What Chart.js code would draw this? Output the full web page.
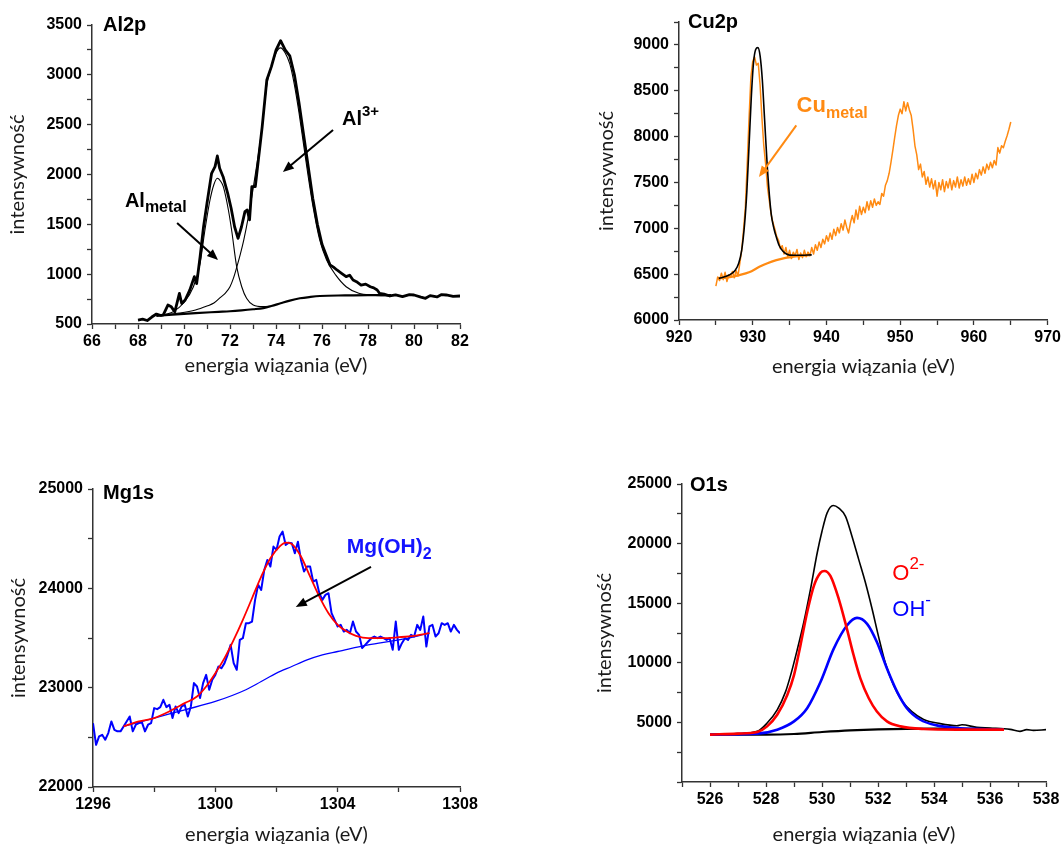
<!DOCTYPE html>
<html>
<head>
<meta charset="utf-8">
<script src="https://cdn.jsdelivr.net/npm/chart.js@4.4.1/dist/chart.umd.min.js"></script>
<style>
  html, body { margin: 0; padding: 0; background: #fff; overflow: hidden; width: 1064px; height: 845px; }
  canvas { position: absolute; }
</style>
</head>
<body>
<script>
// ---- Al2p ----
const alE = [68.0,68.2,68.4,68.6,68.8,69.0,69.1,69.3,69.45,69.6,69.8,69.9,70.05,70.25,70.45,70.55,70.7,70.85,71.0,71.2,71.35,71.45,71.55,71.7,71.9,72.05,72.2,72.35,72.5,72.65,72.75,72.85,72.95,73.1,73.25,73.4,73.6,73.8,74.0,74.2,74.4,74.6,74.8,75.0,75.2,75.4,75.6,75.8,76.0,76.15,76.35,76.5,76.65,76.85,77.05,77.2,77.35,77.5,77.7,77.9,78.1,78.25,78.4,78.5,78.7,78.95,79.2,79.5,79.8,80.0,80.3,80.5,80.7,81.0,81.2,81.4,81.7,82.0];
const alI = [540,548,535,570,600,585,592,690,672,622,808,705,741,840,975,905,1175,1476,1711,2012,2079,2186,2062,1978,1811,1661,1476,1360,1476,1627,1644,1544,1878,1878,2179,2480,2948,3082,3249,3343,3250,3190,3000,2720,2400,2080,1760,1500,1300,1209,1092,1070,1042,1009,975,990,942,925,891,900,874,862,841,808,800,781,792,775,795,791,770,758,785,772,795,791,778,781];
const alMetalE = [68.8,69.26,69.54,69.97,70.41,70.7,70.91,71.13,71.3,71.45,71.6,71.71,71.93,72.07,72.29,72.51,72.72,73.01,73.45,73.8];
const alMetalI = [580,600,624,708,874,1109,1443,1744,1900,1962,1930,1878,1644,1443,1075,874,758,691,674,680];
const al3E = [69.0,69.8,70.5,71.0,71.3,71.6,71.8,72.0,72.15,72.3,72.45,72.6,72.8,73.0,73.2,73.4,73.6,73.8,74.0,74.2,74.4,74.6,74.8,75.0,75.2,75.4,75.6,75.9,76.2,76.6,77.05,77.6,78.2,79.0];
const al3I = [590,610,640,680,710,770,810,874,960,1075,1200,1343,1577,1850,2150,2480,2900,3080,3220,3270,3220,3110,2900,2620,2300,1980,1690,1343,1142,990,874,808,790,782];
const alBgE = [68.8,69.5,70.5,71.5,72.0,72.5,73.0,73.45,73.8,74.2,74.6,75.04,75.5,75.91,77.0,78.0,79.0];
const alBgI = [582,595,610,622,628,637,648,660,680,708,735,758,772,781,787,790,790];

// ---- Cu2p ----
const cuE = [925,925.25,925.5,925.75,926,926.25,926.5,926.75,927,927.25,927.5,927.75,928,928.25,928.5,928.75,929,929.25,929.5,929.75,930,930.25,930.5,930.75,931,931.25,931.5,931.75,932,932.25,932.5,932.75,933,933.25,933.5,933.75,934,934.25,934.5,934.75,935,935.25,935.5,935.75,936,936.25,936.5,936.75,937,937.25,937.5,937.75,938,938.25,938.5,938.75,939,939.25,939.5,939.75,940,940.25,940.5,940.75,941,941.25,941.5,941.75,942,942.25,942.5,942.75,943,943.25,943.5,943.75,944,944.25,944.5,944.75,945,945.25,945.5,945.75,946,946.25,946.5,946.75,947,947.25,947.5,947.75,948,948.25,948.5,948.75,949,949.25,949.5,949.75,950,950.25,950.5,950.75,951,951.25,951.5,951.75,952,952.25,952.5,952.75,953,953.25,953.5,953.75,954,954.25,954.5,954.75,955,955.25,955.5,955.75,956,956.25,956.5,956.75,957,957.25,957.5,957.75,958,958.25,958.5,958.75,959,959.25,959.5,959.75,960,960.25,960.5,960.75,961,961.25,961.5,961.75,962,962.25,962.5,962.75,963,963.25,963.5,963.75,964,964.25,964.5,964.75,965];
const cuI = [6370,6470,6430,6510, 6440,6520,6420,6490, 6470,6530,6460,6540, 6480,6620,6760,6980,
  7230,7700,8200,8650, 8820,8870,8780,8800, 8560,8200,7900,7700, 7450,7300,7150,7060,
  6990,6910,6870,6780, 6810,6720,6790,6690, 6760,6670,6740,6700, 6770,6660,6730,6680,
  6760,6690,6740,6700, 6790,6720,6820,6760, 6850,6790,6880,6830, 6920,6860,6950,6880,
  6990,6920,7010,6950, 7050,6980,7090,7010, 6950,7060,7140,7060, 7200,7100,7240,7150,
  7230,7170,7290,7200, 7300,7230,7320,7250, 7290,7260,7380,7350, 7470,7520,7600,7720,
  7850,7990,8120,8230, 8300,8250,8380,8280, 8370,8290,8230,8080, 7900,7800,7640,7700,
  7560,7620,7480,7560, 7450,7540,7430,7520, 7350,7500,7420,7530, 7400,7510,7440,7540,
  7420,7520,7450,7560, 7440,7530,7460,7560, 7470,7540,7480,7590, 7500,7600,7540,7640,
  7580,7670,7600,7700, 7640,7720,7660,7740, 7690,7880,7820,7900, 7880,7950,8010,8080, 8160];
const cuFitE = [925.4,926.8,927.6,928.1,928.5,928.9,929.2,929.5,929.8,930.1,930.4,930.7,931.0,931.3,931.6,932.0,932.5,932.9,933.2,933.6,934.1,935.0,936.5,938.0];
const cuFitI = [6454,6490,6540,6620,6760,7050,7400,7900,8420,8800,8950,8970,8880,8620,8200,7640,7160,6990,6905,6810,6750,6708,6706,6710];
const cuBgE = [925.3,926.5,928.2,929.5,930.9,932.0,933.2,934.3,935.45,936.5,937.7];
const cuBgI = [6455,6462,6490,6520,6580,6620,6653,6675,6689,6700,6708];

// ---- Mg1s ----
const mgE = [1296,1296.1,1296.2,1296.3,1296.4,1296.5,1296.6,1296.7,1296.8,1296.9,
  1297,1297.1,1297.2,1297.3,1297.4,1297.5,1297.6,1297.7,1297.8,1297.9,
  1298,1298.1,1298.2,1298.3,1298.4,1298.5,1298.6,1298.7,1298.8,1298.9,
  1299,1299.1,1299.2,1299.3,1299.4,1299.5,1299.6,1299.7,1299.8,1299.9,
  1300,1300.1,1300.2,1300.3,1300.4,1300.5,1300.6,1300.7,1300.8,1300.9,
  1301,1301.1,1301.2,1301.3,1301.4,1301.5,1301.6,1301.7,1301.8,1301.9,
  1302,1302.1,1302.2,1302.3,1302.4,1302.5,1302.6,1302.7,1302.8,1302.9,
  1303,1303.1,1303.2,1303.3,1303.4,1303.5,1303.6,1303.7,1303.8,1303.9,
  1304,1304.1,1304.2,1304.3,1304.4,1304.5,1304.6,1304.7,1304.8,1304.9,
  1305,1305.1,1305.2,1305.3,1305.4,1305.5,1305.6,1305.7,1305.8,1305.9,
  1306,1306.1,1306.2,1306.3,1306.4,1306.5,1306.6,1306.7,1306.8,1306.9,
  1307,1307.1,1307.2,1307.3,1307.4,1307.5,1307.6,1307.7,1307.8,1307.9,1308];
const mgI = [22643,22425,22509,22526,22476,22543,22660,22576,22560,22560,
  22610,22660,22710,22560,22627,22643,22650,22560,22627,22643,
  22794,22784,22804,22878,22804,22828,22694,22811,22744,22811,
  22828,22710,22811,23046,23012,22895,23046,23129,22979,23079,
  23129,23213,23196,23247,23331,23431,23247,23180,23481,23498,
  23649,23649,23666,23884,24035,23984,24185,24286,24219,24420,
  24387,24521,24571,24437,24460,24454,24353,24470,24286,24169,
  24219,24219,24068,24085,23951,23884,23934,23951,23750,23683,
  23616,23632,23565,23582,23548,23666,23565,23532,23398,23431,
  23465,23498,23515,23498,23515,23498,23481,23498,23381,23666,
  23381,23448,23498,23481,23532,23515,23632,23582,23716,23414,
  23616,23632,23515,23548,23649,23632,23649,23565,23632,23582,23548];
const mgFitE = [1297.0,1297.5,1298.0,1298.5,1299.0,1299.4,1299.7,1300.0,1300.3,1300.6,1300.9,1301.2,1301.5,1301.8,1302.1,1302.3,1302.5,1302.8,1303.1,1303.4,1303.7,1304.0,1304.3,1304.6,1305.0,1305.5,1306.0,1306.5,1307.0];
const mgFitI = [22610,22660,22694,22761,22844,22911,23012,23146,23297,23481,23683,23900,24118,24303,24420,24460,24447,24320,24118,23917,23750,23632,23565,23522,23498,23498,23508,23522,23548];
const mgBgE = [1297,1298,1299,1300,1301,1301.5,1302,1302.5,1303,1303.5,1304,1305,1306,1307];
const mgBgI = [22610,22694,22777,22861,22979,23062,23146,23213,23280,23331,23364,23431,23481,23548];

// ---- O1s ----
const oEnvE = [526,526.97,527.69,528.04,528.4,528.7,528.88,529.11,529.35,529.59,529.83,530.0,530.18,530.4,530.6,530.84,531.07,531.31,531.55,531.79,532.02,532.26,532.56,532.86,533.21,533.63,534.22,534.82,535.0,535.53,536.0,536.72,537.07,537.31,537.55,538];
const oEnvI = [3974,4057,4250,4945,6054,7580,8967,11047,13405,16179,19230,21033,22559,23197,22975,22282,20617,18675,16734,14515,12200,10000,8100,6800,5900,5250,4900,4722,4806,4584,4528,4417,4251,4390,4334,4390];
const oO2E = [526,527,527.69,528.04,528.4,528.76,529.0,529.23,529.47,529.71,529.95,530.09,530.3,530.6,530.89,531.13,531.37,531.67,531.96,532.32,532.8,533.63,534.82,536.5];
const oO2I = [3974,4057,4196,4667,5638,7303,8967,11463,14237,16456,17566,17705,17289,15347,12850,10631,8690,7025,5916,5083,4667,4445,4390,4390];
const oOHE = [526,527.69,528.4,529.0,529.47,529.95,530.42,530.89,531.25,531.61,531.96,532.32,532.68,533.03,533.51,534.1,534.82,535.65,536.5];
const oOHI = [3974,4057,4390,5083,6193,8412,11186,13128,13766,13267,11740,9521,7580,6193,5222,4750,4528,4445,4390];
const oBgE = [526,528,529,530,531,532,534,536.5];
const oBgI = [3974,3974,4029,4196,4334,4417,4473,4445];

const ORANGE = '#ff8a12', RED = '#ff0000', BLUE = '#0000ff';
const TICK_FONT = { family: '"Liberation Sans", Arial, sans-serif', size: 16, weight: 'bold' };
const TITLE_FONT = { family: 'Lato, "Open Sans", sans-serif', size: 20 };
const HALF_LH = 20 * 1.2 / 2;
const B = (s) => 'bold ' + s + 'px "Liberation Sans", Arial, sans-serif';
const R = (s) => s + 'px "Liberation Sans", Arial, sans-serif';

function line(xs, ys, color, width, smooth) {
  return {
    data: xs.map((v, i) => ({ x: v, y: ys[i] })),
    borderColor: color, borderWidth: width, pointRadius: 0, fill: false,
    tension: smooth ? 0.4 : 0,
    cubicInterpolationMode: smooth ? 'monotone' : 'default',
    borderJoinStyle: 'round'
  };
}

// panel title, coloured labels and arrows, placed through the scales
function marks(cfg) {
  return {
    id: 'marks',
    afterDatasetsDraw(chart) {
      const { ctx, chartArea: a, scales: { x, y } } = chart;
      ctx.save();
      ctx.textAlign = 'left';
      ctx.textBaseline = 'alphabetic';
      ctx.fillStyle = '#000';
      ctx.font = B(20);
      ctx.fillText(cfg.title, a.left + cfg.titleAt[0], a.top + cfg.titleAt[1]);
      (cfg.labels || []).forEach(l => {
        let px = x.getPixelForValue(l.at[0]);
        const py = y.getPixelForValue(l.at[1]);
        ctx.fillStyle = l.color;
        l.parts.forEach(([t, f, dy]) => {
          ctx.font = f;
          ctx.fillText(t, px, py + dy);
          px += ctx.measureText(t).width;
        });
      });
      (cfg.arrows || []).forEach(ar => {
        const x0 = x.getPixelForValue(ar.from[0]), y0 = y.getPixelForValue(ar.from[1]);
        const x1 = x.getPixelForValue(ar.to[0]), y1 = y.getPixelForValue(ar.to[1]);
        const ang = Math.atan2(y1 - y0, x1 - x0), c = Math.cos(ang), s = Math.sin(ang);
        const head = 11, half = 4.5;
        ctx.strokeStyle = ar.color; ctx.fillStyle = ar.color; ctx.lineWidth = 2;
        ctx.beginPath();
        ctx.moveTo(x0, y0);
        ctx.lineTo(x1 - c * head * 0.8, y1 - s * head * 0.8);
        ctx.stroke();
        ctx.beginPath();
        ctx.moveTo(x1, y1);
        ctx.lineTo(x1 - head * c + half * s, y1 - head * s - half * c);
        ctx.lineTo(x1 - head * c - half * s, y1 - head * s + half * c);
        ctx.closePath();
        ctx.fill();
      });
      ctx.restore();
    }
  };
}

function axis(s, b, isX) {
  return {
    type: 'linear', min: s.min, max: s.max,
    afterFit: isX ? (sc => { sc.height = b.top + b.h - b.B; }) : (sc => { sc.width = b.L - b.left; }),
    ticks: {
      stepSize: s.step, autoSkip: false, maxRotation: 0, color: '#000', font: TICK_FONT,
      padding: isX ? 3 : 5,
      callback: v => (s.major(v) ? String(v) : '')
    },
    grid: { drawOnChartArea: false, tickLength: 5, tickColor: '#333', tickWidth: 1.3 },
    border: { color: '#333', width: 1.5 },
    title: {
      display: true, color: '#1a1a1a', font: TITLE_FONT,
      text: isX ? 'energia wiązania (eV)' : 'intensywność',
      padding: isX ? { top: 0, bottom: b.top + b.h - b.xt - HALF_LH }
                   : { top: b.yt - b.left - HALF_LH, bottom: 0 }
    }
  };
}

function panel(b, xs, ys, datasets, cfg) {
  const cv = document.createElement('canvas');
  cv.width = b.w; cv.height = b.h;
  cv.style.left = b.left + 'px'; cv.style.top = b.top + 'px';
  document.body.appendChild(cv);
  return new Chart(cv, {
    type: 'line',
    data: { datasets },
    options: {
      responsive: false, animation: false,
      layout: { padding: { left: 0, top: b.T - b.top, right: b.left + b.w - b.R, bottom: 0 } },
      plugins: { legend: { display: false }, tooltip: { enabled: false } },
      scales: { x: axis(xs, b, true), y: axis(ys, b, false) }
    },
    plugins: [marks(cfg)]
  });
}

// Al2p
panel({ left: 0, top: 0, w: 532, h: 385, L: 92, R: 460, T: 25, B: 324, xt: 366, yt: 18 },
  { min: 66, max: 82, step: 1, major: v => v % 2 === 0 },
  { min: 500, max: 3500, step: 250, major: v => v % 500 === 0 },
  [line(alE, alI, '#000', 2.8, false),
   line(alMetalE, alMetalI, '#000', 1.1, true),
   line(al3E, al3I, '#000', 1.1, true),
   line(alBgE, alBgI, '#000', 2.2, true)],
  { title: 'Al2p', titleAt: [11, 6],
    labels: [
      { at: [67.43, 1674], color: '#000', parts: [['Al', B(20), 0], ['metal', B(16), 5]] },
      { at: [76.87, 2497], color: '#000', parts: [['Al', B(20), 0], ['3+', B(15), -9]] }],
    arrows: [
      { from: [69.7, 1513], to: [71.48, 1142], color: '#000' },
      { from: [76.48, 2447], to: [74.3, 2025], color: '#000' }] });

// Cu2p
panel({ left: 590, top: 0, w: 474, h: 385, L: 679, R: 1048, T: 22, B: 320, xt: 367, yt: 607 },
  { min: 920, max: 970, step: 5, major: v => v % 10 === 0 },
  { min: 6000, max: 9250, step: 250, major: v => v % 500 === 0 },
  [line(cuFitE, cuFitI, '#000', 1.6, true),
   line(cuE, cuI, ORANGE, 1.5, false),
   line(cuBgE, cuBgI, ORANGE, 2.2, true)],
  { title: 'Cu2p', titleAt: [9, 6],
    labels: [{ at: [935.95, 8267], color: ORANGE, parts: [['Cu', B(22), 0], ['metal', B(16), 6]] }],
    arrows: [{ from: [935.91, 8122], to: [930.84, 7560], color: ORANGE }] });

// Mg1s
panel({ left: 0, top: 430, w: 532, h: 430, L: 93, R: 460, T: 489, B: 787, xt: 835, yt: 19 },
  { min: 1296, max: 1308, step: 2, major: v => v % 4 === 0 },
  { min: 22000, max: 25000, step: 500, major: v => v % 1000 === 0 },
  [line(mgFitE, mgFitI, RED, 1.8, true),
   line(mgE, mgI, BLUE, 2, false),
   line(mgBgE, mgBgI, BLUE, 1.3, true)],
  { title: 'Mg1s', titleAt: [10, 10],
    labels: [{ at: [1304.3, 24359], color: '#1414ff', parts: [['Mg(OH)', B(21), 0], ['2', B(16), 6]] }],
    arrows: [{ from: [1305.09, 24215], to: [1302.63, 23813], color: '#000' }] });

// O1s
panel({ left: 590, top: 430, w: 474, h: 430, L: 682, R: 1046, T: 484, B: 782, xt: 835, yt: 605 },
  { min: 525, max: 538, step: 1, major: v => v % 2 === 0 },
  { min: 0, max: 25000, step: 2500, major: v => v > 0 && v % 5000 === 0 },
  [line(oO2E, oO2I, RED, 2.6, true),
   line(oOHE, oOHI, BLUE, 2.6, true),
   line(oEnvE, oEnvI, '#000', 1.6, true),
   line(oBgE, oBgI, '#000', 2.2, true)],
  { title: 'O1s', titleAt: [8, 7],
    labels: [
      { at: [532.51, 16930], color: RED, parts: [['O', R(22), 0], ['2-', R(17), -11]] },
      { at: [532.51, 13960], color: BLUE, parts: [['OH', R(22), 0], ['-', R(17), -11]] }] });
</script>
</body>
</html>
